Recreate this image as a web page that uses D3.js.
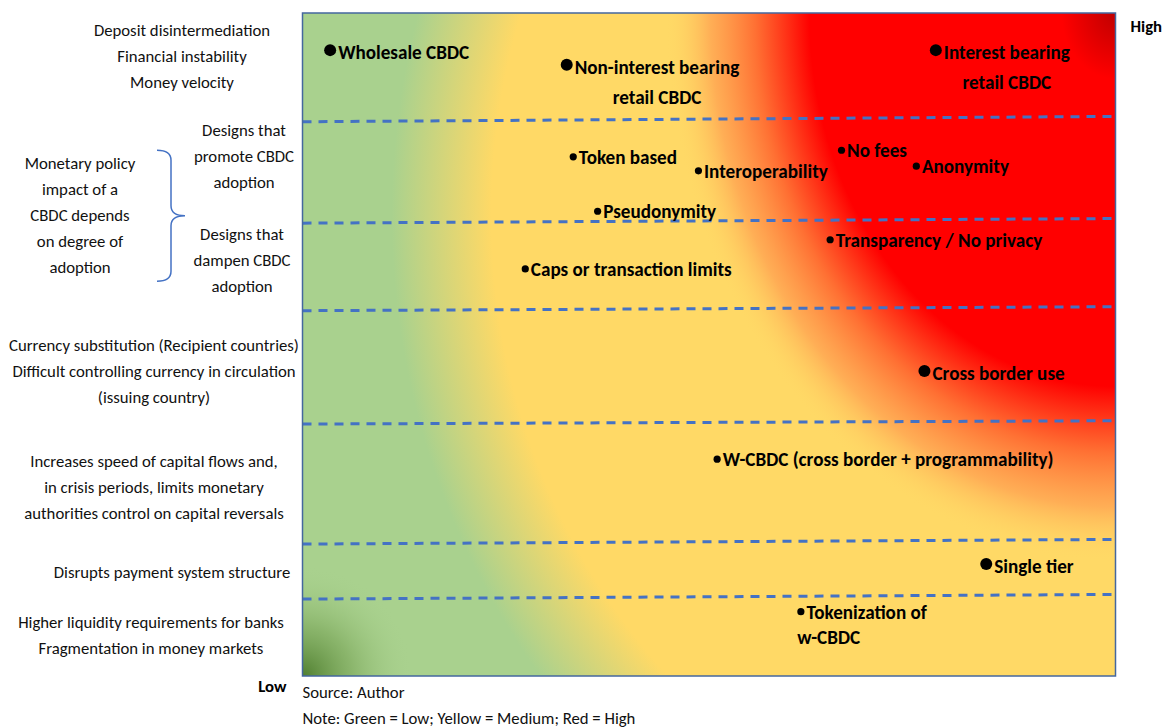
<!DOCTYPE html>
<html>
<head>
<meta charset="utf-8">
<script src="https://cdn.jsdelivr.net/npm/d3@7"></script>
<style>
  body { margin: 0; background: #fff; }
  svg { display: block; }
</style>
</head>
<body>
<svg id="chart"></svg>
<script>
// Impact map: x = how strongly a CBDC design affects monetary policy (0 = low, 100 = high)
//             y = policy area, from low impact (0) to high impact (100)
const pointNames = [
  "Wholesale CBDC", "Non-interest bearing|retail CBDC", "Interest bearing|retail CBDC",
  "Token based", "Interoperability", "No fees", "Anonymity", "Pseudonymity",
  "Transparency / No privacy", "Caps or transaction limits", "Cross border use",
  "W-CBDC (cross border + programmability)", "Single tier", "Tokenization of|w-CBDC"
];
const pointX = [3.4, 32.5, 77.9, 33.3, 48.7, 66.3, 75.5, 36.3, 64.9, 27.4, 76.5, 51.0, 84.1, 61.3];
const pointY = [94.4, 92.2, 94.4, 78.3, 76.2, 79.3, 76.9, 70.1, 65.8, 61.4, 46.0, 32.7, 16.9, 9.7];
const largeMarkers = ["Wholesale CBDC", "Non-interest bearing|retail CBDC", "Interest bearing|retail CBDC",
  "Cross border use", "Single tier"];

// dashed separators between the policy areas (y at left edge, y at right edge)
const bandLeftY = [83.6, 68.3, 55.1, 38.0, 19.9, 11.6];
const bandRightY = [84.4, 69.0, 55.7, 38.5, 20.6, 12.3];

// row labels on the left, with their vertical centre in y units
const rowLabels = [
  ["Deposit disintermediation", "Financial  instability", "Money velocity"],
  ["Designs that", "promote CBDC", "adoption"],
  ["Designs that", "dampen CBDC", "adoption"],
  ["Currency substitution (Recipient  countries)", "Difficult controlling currency  in circulation", "(issuing country)"],
  ["Increases speed of capital flows and,", "in crisis periods, limits monetary", "authorities control on capital reversals"],
  ["Disrupts payment system structure"],
  ["Higher liquidity requirements  for banks", "Fragmentation in money markets"]
];
const rowLabelY = [93.4, 78.4, 62.7, 45.9, 28.4, 15.6, 6.1];
const groupLabel = ["Monetary policy", "impact of a", "CBDC depends", "on degree of", "adoption"];
const notes = ["Source: Author", "Note: Green = Low;  Yellow = Medium; Red = High"];

const width = 1167, height = 728;
const box = { left: 302.5, top: 13, right: 1115.5, bottom: 676 };
const fontFamily = "Carlito, Calibri, Lato, 'Open Sans', sans-serif";

const svg = d3.select("#chart").attr("width", width).attr("height", height);

const x = d3.scaleLinear().domain([0, 100]).range([box.left, box.right]);
const y = d3.scaleLinear().domain([0, 100]).range([box.bottom, box.top]);

// pick font sizes so the text runs as wide as in the original
function fitSize(str, weight, target) {
  const t = svg.append("text").attr("font-family", fontFamily)
      .attr("font-weight", weight).attr("font-size", 100).text(str);
  const w = t.node().getComputedTextLength();
  t.remove();
  return 100 * target / w;
}
const fsReg = fitSize("Currency substitution (Recipient  countries)", 400, 290);
const fsBold = fitSize("W-CBDC (cross border + programmability)", 700, 331);

// background: yellow/green field, red hot corner, dark green cold corner
const defs = svg.append("defs");
const bw = box.right - box.left, bh = box.bottom - box.top;

const yg = defs.append("radialGradient").attr("id", "yg")
    .attr("gradientUnits", "userSpaceOnUse")
    .attr("cx", box.right + 66).attr("cy", box.top + 202).attr("r", 1000);
[[0, "#ffd966"], [0.69, "#ffd966"], [0.79, "#a9d18e"], [1, "#a9d18e"]]
  .forEach(s => yg.append("stop").attr("offset", s[0]).attr("stop-color", s[1]));

const redR = 450, redK = 1.22;
const red = defs.append("radialGradient").attr("id", "red")
    .attr("gradientUnits", "userSpaceOnUse")
    .attr("cx", box.right).attr("cy", box.top).attr("r", redR)
    .attr("gradientTransform",
      `translate(${box.right},${box.top}) scale(1,${redK}) translate(${-box.right},${-box.top})`);
[[0, "#c00000", 1], [0.12, "#ff0000", 1], [0.68, "#ff0000", 1], [0.80, "#ff6a30", 0.95],
 [0.90, "#ffa050", 0.75], [1, "#ffd966", 0]]
  .forEach(s => red.append("stop").attr("offset", s[0]).attr("stop-color", s[1]).attr("stop-opacity", s[2]));

const dg = defs.append("radialGradient").attr("id", "dg")
    .attr("gradientUnits", "userSpaceOnUse")
    .attr("cx", box.left).attr("cy", box.bottom).attr("r", 110);
[[0, "#507f30", 1], [0.45, "#729f50", 0.55], [1, "#a9d18e", 0]]
  .forEach(s => dg.append("stop").attr("offset", s[0]).attr("stop-color", s[1]).attr("stop-opacity", s[2]));

["yg", "red", "dg"].forEach(id => {
  svg.append("rect")
      .attr("x", box.left).attr("y", box.top).attr("width", bw).attr("height", bh)
      .attr("fill", `url(#${id})`);
});

// dashed separators
svg.append("g")
  .selectAll("line")
  .data(bandLeftY)
  .join("line")
    .attr("x1", x(0)).attr("x2", x(100))
    .attr("y1", d => y(d))
    .attr("y2", (d, i) => y(bandRightY[i]))
    .attr("stroke", "#4472c4")
    .attr("stroke-width", 3)
    .attr("stroke-dasharray", "9,7");

// frame
svg.append("rect")
    .attr("x", box.left).attr("y", box.top).attr("width", bw).attr("height", bh)
    .attr("fill", "none").attr("stroke", "#44679e").attr("stroke-width", 1.5);

// design points
const pts = pointNames.map((name, i) => ({
  name, lines: name.split("|"), x: pointX[i], y: pointY[i], big: largeMarkers.includes(name)
}));

const pg = svg.append("g")
  .selectAll("g")
  .data(pts)
  .join("g")
    .attr("transform", d => `translate(${x(d.x)},${y(d.y)})`);

pg.append("circle")
    .attr("r", d => d.big ? 6 : 3.6)
    .attr("fill", "#000");

pg.each(function (d) {
  const r = d.big ? 6 : 3.6;
  const t = d3.select(this).append("text")
      .attr("font-family", fontFamily).attr("font-weight", 700)
      .attr("font-size", fsBold).attr("fill", "#000");
  const first = t.append("tspan").attr("x", r + 2).attr("y", d.big ? 9 : 7).text(d.lines[0]);
  if (d.lines.length > 1) {
    const w = first.node().getComputedTextLength();
    const leftAlign = d.name.startsWith("Tokenization");
    t.append("tspan")
        .attr("x", leftAlign ? -r : r + 2 + w / 2)
        .attr("y", (d.big ? 9 : 7) + (leftAlign ? 25 : 30))
        .attr("text-anchor", leftAlign ? "start" : "middle")
        .text(d.lines[1]);
  }
});

// left row labels
const rowX = [182, 244, 242, 154, 154, 172, 151];
const lineH = 26;
svg.append("g")
  .selectAll("text")
  .data(rowLabels)
  .join("text")
    .attr("font-family", fontFamily)
    .attr("font-size", fsReg)
    .attr("fill", "#111")
    .attr("text-anchor", "middle")
    .each(function (lines, i) {
      const cy = y(rowLabelY[i]) - (lines.length - 1) * lineH / 2 + fsReg * 0.33;
      d3.select(this).selectAll("tspan")
        .data(lines)
        .join("tspan")
          .attr("x", rowX[i])
          .attr("y", (d, j) => cy + j * lineH)
          .text(d => d);
    });

// brace grouping the two adoption rows
const bTop = y(rowLabelY[1]) - 6, bBot = y(rowLabelY[2]) + 21;
const bMid = (bTop + bBot) / 2;
const brace = d3.path();
brace.moveTo(157, bTop);
brace.quadraticCurveTo(171, bTop, 171, bTop + 10);
brace.lineTo(171, bMid - 10);
brace.quadraticCurveTo(171, bMid, 185, bMid);
brace.quadraticCurveTo(171, bMid, 171, bMid + 10);
brace.lineTo(171, bBot - 10);
brace.quadraticCurveTo(171, bBot, 157, bBot);
svg.append("path").attr("d", brace.toString())
    .attr("fill", "none").attr("stroke", "#4472c4").attr("stroke-width", 1.5);

svg.append("text")
    .attr("font-family", fontFamily).attr("font-size", fsReg)
    .attr("fill", "#111").attr("text-anchor", "middle")
  .selectAll("tspan")
  .data(groupLabel)
  .join("tspan")
    .attr("x", 80)
    .attr("y", (d, j) => bMid - 2 * lineH + fsReg * 0.33 + j * lineH)
    .text(d => d);

// High / Low ends
svg.append("text")
    .attr("x", box.right + 15).attr("y", box.top + 19)
    .attr("font-family", fontFamily).attr("font-weight", 700)
    .attr("font-size", fsReg).attr("fill", "#000")
    .text("High");
svg.append("text")
    .attr("x", box.left - 16).attr("y", box.bottom + 16)
    .attr("text-anchor", "end")
    .attr("font-family", fontFamily).attr("font-weight", 700)
    .attr("font-size", fsReg).attr("fill", "#000")
    .text("Low");

// source and note
svg.append("g")
  .selectAll("text")
  .data(notes)
  .join("text")
    .attr("x", box.left)
    .attr("y", (d, i) => box.bottom + 22 + i * 26)
    .attr("font-family", fontFamily)
    .attr("font-size", fsReg)
    .attr("fill", "#111")
    .text(d => d);
</script>
</body>
</html>
